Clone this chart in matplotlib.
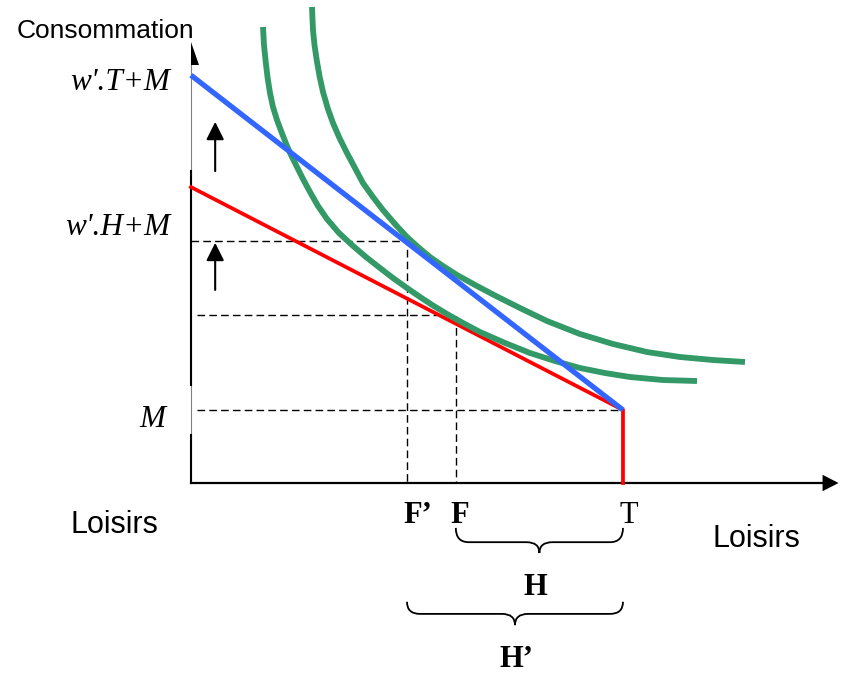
import numpy as np
import matplotlib
matplotlib.use("Agg")
from matplotlib import pyplot as plt
from matplotlib.path import Path
from matplotlib.patches import PathPatch, Polygon

# valeurs (unités arbitraires, loisirs en x, consommation en y)
T = 10.0          # temps total
M = 1.69          # revenu non salarial
C_max_init = 6.85   # w.T + M (droite rouge)
C_max_new = 9.44    # w'.T + M (droite bleue)
F = 6.13          # loisir choisi avant
C_F = 3.89
F2 = 5.00         # loisir choisi après (F')
C_F2 = 5.60

# courbe d'indifférence basse (tangente à la droite rouge)
u1_x = [1.667, 1.690, 1.725, 1.771, 1.829, 1.898, 1.991, 2.095, 2.222, 2.338,
        2.454, 2.593, 2.755, 2.940, 3.148, 3.426, 3.727, 4.051, 4.375, 4.676,
        5.000, 5.301, 5.602, 5.926, 6.296, 6.690, 7.269, 7.847, 8.426, 9.005,
        9.583, 10.162, 10.926, 11.713]
u1_y = [10.556, 10.139, 9.792, 9.398, 9.028, 8.704, 8.403, 8.125, 7.801, 7.546,
        7.315, 7.037, 6.736, 6.412, 6.111, 5.787, 5.509, 5.231, 4.977, 4.745,
        4.514, 4.306, 4.109, 3.912, 3.704, 3.495, 3.241, 3.009, 2.824, 2.662,
        2.546, 2.454, 2.384, 2.361]

# courbe d'indifférence haute (tangente à la droite bleue)
u2_x = [2.801, 2.824, 2.859, 2.910, 2.975, 3.056, 3.171, 3.287, 3.438, 3.611,
        3.796, 3.981, 4.213, 4.444, 4.722, 5.000, 5.255, 5.532, 5.833, 6.157,
        6.620, 7.083, 7.662, 8.241, 9.005, 9.769, 10.556, 11.319, 12.083, 12.824]
u2_y = [11.019, 10.486, 10.139, 9.792, 9.421, 9.051, 8.657, 8.333, 7.986, 7.639,
        7.292, 6.944, 6.620, 6.319, 5.995, 5.694, 5.463, 5.231, 5.023, 4.815,
        4.560, 4.317, 4.028, 3.750, 3.449, 3.218, 3.032, 2.917, 2.847, 2.801]

red = "#ff0000"
blue = "#3366ff"
green = "#339966"

fig = plt.figure(figsize=(8.43, 6.78), dpi=100)
ax = fig.add_axes([0, 0, 1, 1])
ax.set_xlim(-4.421, 15.093)
ax.set_ylim(-4.514, 11.181)
ax.axis("off")

# axes
ax.plot([0, 0], [0, 9.8], color="#808080", lw=0.8, zorder=2)
ax.plot([0, 0], [2.27, 7.22], color="black", lw=1.5, zorder=2)
ax.plot([0, 0], [0, 1.11], color="black", lw=1.5, zorder=2)
ax.add_patch(Polygon([(0.01, 10.21), (0.01, 9.68), (0.18, 9.68)], closed=True,
                     color="black", lw=0, zorder=3))
ax.plot([0, 14.7], [0, 0], color="black", lw=1.6, zorder=2)
ax.add_patch(Polygon([(14.62, 0.19), (14.62, -0.19), (14.99, 0)], closed=True,
                     color="black", lw=0, zorder=3))

# pointillés
dash = dict(color="black", lw=1.0, dashes=(5.5, 3), zorder=1)
ax.plot([0.14, T], [M, M], **dash)
ax.plot([0.14, F, F], [C_F, C_F, 0], **dash)
ax.plot([0, F2, F2], [C_F2, C_F2, 0], **dash)

# contraintes budgétaires
ax.plot([0, T, T], [C_max_init, M, 0], color=red, lw=2.7, zorder=4,
        solid_joinstyle="miter")
ax.plot([0, T], [C_max_new, M], color=blue, lw=3.8, zorder=6,
        solid_capstyle="butt")

# courbes d'indifférence
ax.plot(u1_x, u1_y, color=green, lw=4.2, zorder=5, solid_capstyle="butt",
        solid_joinstyle="round")
ax.plot(u2_x, u2_y, color=green, lw=4.2, zorder=5, solid_capstyle="butt",
        solid_joinstyle="round")

# flèches vers le haut
arrow = dict(arrowstyle="-|>,head_length=0.6,head_width=0.3", color="black",
             lw=1.5, mutation_scale=18, shrinkA=0, shrinkB=0)
ax.annotate("", xy=(0.56, 8.36), xytext=(0.56, 7.22), arrowprops=arrow)
ax.annotate("", xy=(0.56, 5.56), xytext=(0.56, 4.47), arrowprops=arrow)


def brace(x0, x1, ytop, ymid, ytip, r=0.3):
    xc = (x0 + x1) / 2
    verts = [(x0, ytop), (x0, ymid), (x0 + r, ymid), (xc - r, ymid), (xc, ymid),
             (xc, ytip), (xc, ymid), (xc + r, ymid), (x1 - r, ymid), (x1, ymid),
             (x1, ytop)]
    codes = [Path.MOVETO, Path.CURVE3, Path.CURVE3, Path.LINETO, Path.CURVE3,
             Path.CURVE3, Path.CURVE3, Path.CURVE3, Path.LINETO, Path.CURVE3,
             Path.CURVE3]
    ax.add_patch(PathPatch(Path(verts, codes), fill=False, lw=1.3,
                           edgecolor="black"))


brace(F, T, -1.04, -1.37, -1.62)
brace(F2, T, -2.75, -3.03, -3.29)

# textes
serif_it = dict(family="Liberation Serif", style="italic", fontsize=22.5)
ax.text(-0.486, 9.10, "w'.T+M", ha="right", va="baseline", **serif_it)
ax.text(-0.486, 5.74, "w'.H+M", ha="right", va="baseline", **serif_it)
ax.text(-0.60, 1.30, "M", ha="right", va="baseline", **serif_it)

sans = dict(family="Liberation Sans")
ax.text(-4.03, 10.30, "Consommation", ha="left", va="baseline", fontsize=19, **sans)
ax.text(-2.80, -1.157, "Loisirs", ha="left", va="baseline", fontsize=22, **sans)
ax.text(12.08, -1.48, "Loisirs", ha="left", va="baseline", fontsize=22, **sans)

serif_b = dict(family="Liberation Serif", weight="bold", fontsize=22)
ax.text(4.907, -0.926, "F’", ha="left", va="baseline", **serif_b)
ax.text(5.995, -0.926, "F", ha="left", va="baseline", **serif_b)
ax.text(9.93, -0.926, "T", ha="left", va="baseline", family="Liberation Serif",
        fontsize=22)
ax.text(7.963, -2.59, "H", ha="center", va="baseline", **serif_b)
ax.text(7.153, -4.26, "H’", ha="left", va="baseline", **serif_b)

fig.savefig("out.png", dpi=100)
